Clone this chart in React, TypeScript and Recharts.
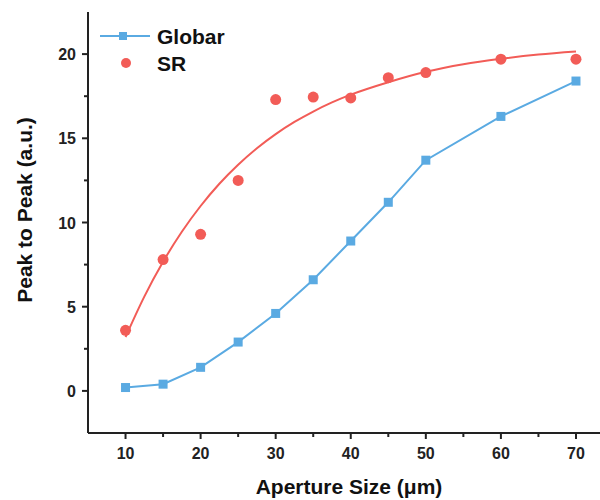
import { ComposedChart, Line, XAxis, YAxis } from 'recharts';

const apertures = [10, 15, 20, 25, 30, 35, 40, 45, 50, 60, 70];
const globar = [0.2, 0.4, 1.4, 2.9, 4.6, 6.6, 8.9, 11.2, 13.7, 16.3, 18.4];
const sr = [3.6, 7.8, 9.3, 12.5, 17.3, 17.45, 17.4, 18.6, 18.9, 19.7, 19.7];

// fitted curve through the SR points
const fitX = [10, 12.5, 15, 17.5, 20, 22.5, 25, 27.5, 30, 32.5, 35, 37.5, 40, 45, 50, 55, 60, 65, 70];
const fitY = [3.2, 5.6, 7.67, 9.45, 10.98, 12.3, 13.43, 14.41, 15.25, 15.97, 16.59, 17.13, 17.59, 18.33, 18.95, 19.4, 19.72, 19.97, 20.15];

const xTicks = [10, 15, 20, 25, 30, 35, 40, 45, 50, 55, 60, 65, 70];
const yTicks = [-2.5, 0, 2.5, 5, 7.5, 10, 12.5, 15, 17.5, 20, 22.5];
const xLabels = [10, 20, 30, 40, 50, 60, 70];
const yLabels = [0, 5, 10, 15, 20];

const BLUE = '#5aaae2';
const RED = '#f25c57';
const FONT = '"Liberation Sans", Arial, sans-serif';

const xs = Array.from(new Set([...fitX, ...apertures])).sort((a, b) => a - b);
const data = xs.map(x => {
  const i = apertures.indexOf(x);
  const j = fitX.indexOf(x);
  return {
    x,
    globar: i >= 0 ? globar[i] : null,
    sr: i >= 0 ? sr[i] : null,
    fit: j >= 0 ? fitY[j] : null,
  };
});

function XTick({ x, y, payload }: any) {
  const major = xLabels.includes(payload.value);
  return (
    <g>
      <line x1={x} x2={x} y1={y} y2={y + (major ? 6 : 4)} stroke="#222" strokeWidth={2} />
      {major && (
        <text x={x} y={y + 26} textAnchor="middle" fontSize={16} fontWeight="bold" fill="#222" fontFamily={FONT}>
          {payload.value}
        </text>
      )}
    </g>
  );
}

function YTick({ x, y, payload }: any) {
  const major = yLabels.includes(payload.value);
  if (payload.value === -2.5 || payload.value === 22.5) return null;
  return (
    <g>
      <line x1={x} x2={x - (major ? 6 : 4)} y1={y} y2={y} stroke="#222" strokeWidth={2} />
      {major && (
        <text x={x - 12} y={y + 6} textAnchor="end" fontSize={16} fontWeight="bold" fill="#222" fontFamily={FONT}>
          {payload.value}
        </text>
      )}
    </g>
  );
}

function Square({ cx, cy }: any) {
  if (cx == null || cy == null) return null;
  return <rect x={cx - 4.5} y={cy - 4.5} width={9} height={9} fill={BLUE} />;
}

function Dot({ cx, cy }: any) {
  if (cx == null || cy == null) return null;
  return <circle cx={cx} cy={cy} r={5.5} fill={RED} />;
}

function ChartLegend() {
  return (
    <svg width={130} height={60} style={{ position: 'absolute', left: 100, top: 24, overflow: 'visible' }}>
      <line x1={0} x2={50} y1={12} y2={12} stroke={BLUE} strokeWidth={2} />
      <rect x={19} y={8} width={8} height={8} fill={BLUE} />
      <text x={57} y={19.5} fontSize={21} fontWeight="bold" fill="#111" fontFamily={FONT}>Globar</text>
      <circle cx={26} cy={39} r={5} fill={RED} />
      <text x={57} y={46.5} fontSize={21} fontWeight="bold" fill="#111" fontFamily={FONT}>SR</text>
    </svg>
  );
}

export default function App() {
  return (
    <div style={{ position: 'fixed', left: 0, top: 0, width: 600, height: 500, background: '#fff' }}>
      <ComposedChart width={600} height={500} data={data} margin={{ top: 12, right: 0, bottom: 0, left: 0 }}>
        <XAxis
          dataKey="x"
          type="number"
          domain={[5, 73.2]}
          ticks={xTicks}
          interval={0}
          allowDataOverflow
          height={67}
          tickSize={0}
          tickMargin={0}
          axisLine={{ stroke: '#222', strokeWidth: 2 }}
          tick={<XTick />}
          label={(props: any) => {
            const vb = props.viewBox;
            return (
              <text x={vb.x + vb.width / 2 + 5} y={vb.y + 61} textAnchor="middle" fontSize={21} fontWeight="bold" fill="#111" fontFamily={FONT}>
                Aperture Size (μm)
              </text>
            );
          }}
        />
        <XAxis xAxisId="top" orientation="top" dataKey="x" type="number" domain={[5, 73.2]} height={0} tick={false} tickLine={false} axisLine={{ stroke: '#222', strokeWidth: 2 }} />
        <YAxis
          type="number"
          domain={[-2.5, 22.5]}
          ticks={yTicks}
          interval={0}
          width={88}
          tickSize={0}
          tickMargin={0}
          axisLine={{ stroke: '#222', strokeWidth: 2 }}
          tick={<YTick />}
          label={() => (
            <text transform="translate(32, 210) rotate(-90)" textAnchor="middle" fontSize={21} fontWeight="bold" fill="#111" fontFamily={FONT}>
              Peak to Peak (a.u.)
            </text>
          )}
        />
        <Line dataKey="fit" type="monotone" stroke={RED} strokeWidth={2} dot={false} connectNulls isAnimationActive={false} />
        <Line dataKey="globar" type="linear" stroke={BLUE} strokeWidth={2} dot={<Square />} activeDot={false} connectNulls isAnimationActive={false} />
        <Line dataKey="sr" stroke="none" dot={<Dot />} activeDot={false} connectNulls isAnimationActive={false} />
      </ComposedChart>
      <ChartLegend />
    </div>
  );
}
